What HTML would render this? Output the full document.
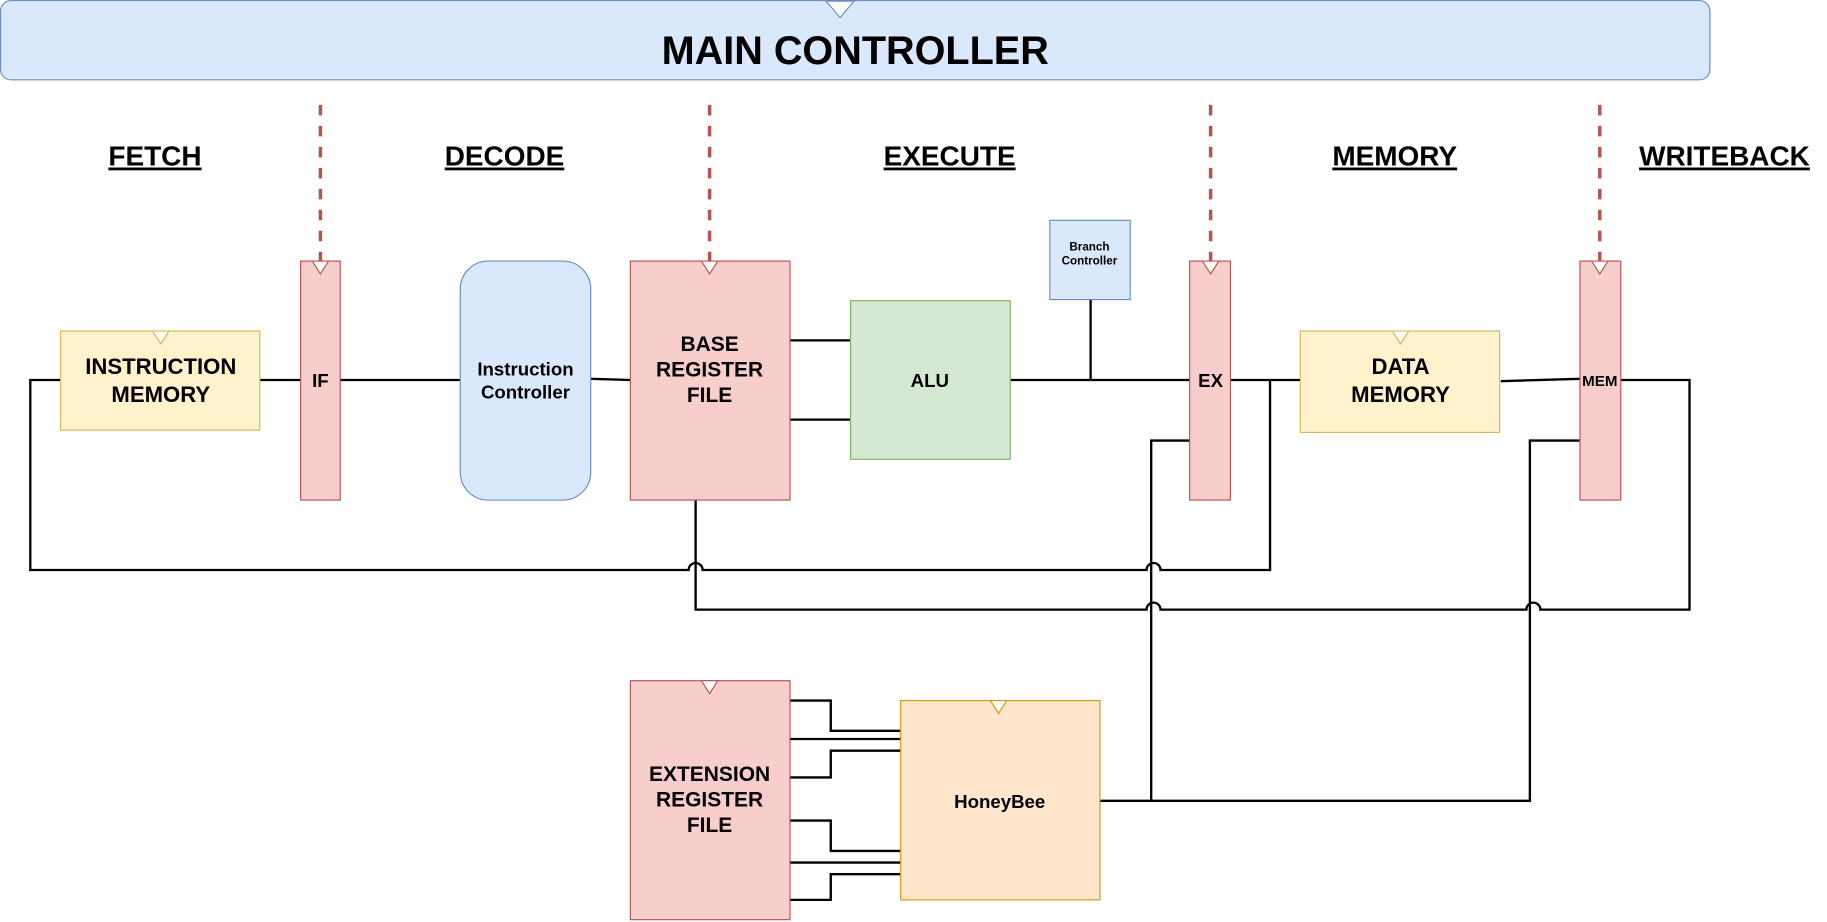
<!DOCTYPE html>
<html><head><style>html,body{margin:0;padding:0;background:#fff}svg{display:block}</style></head><body>
<svg width="1827" height="922" viewBox="0 0 1568 791" preserveAspectRatio="none" xmlns="http://www.w3.org/2000/svg" font-family="Liberation Sans, Arial, sans-serif" font-weight="bold">
<rect x="0.5" y="0.5" width="1467" height="68" rx="9" fill="#dae8fc" stroke="#6c8ebf"/>
<path d="M709 1 L733 1 L721 15 Z" fill="#fff" stroke="#6c8ebf"/>
<text x="734" y="55" font-size="34" text-anchor="middle">MAIN CONTROLLER</text>
<g font-size="24" text-anchor="middle" text-decoration="underline">
<text x="133" y="142">FETCH</text><text x="433" y="142">DECODE</text><text x="815" y="142">EXECUTE</text><text x="1197" y="142">MEMORY</text><text x="1480" y="142">WRITEBACK</text>
</g>
<g stroke="#b85450" stroke-width="3" stroke-dasharray="9,9">
<line x1="275" y1="90" x2="275" y2="232"/><line x1="609" y1="90" x2="609" y2="232"/><line x1="1039" y1="90" x2="1039" y2="232"/><line x1="1373" y1="90" x2="1373" y2="232"/>
</g>
<g stroke="#000" stroke-width="2" fill="none">
<line x1="223" y1="326" x2="258" y2="326"/><line x1="292" y1="326" x2="395" y2="326"/><line x1="507" y1="325" x2="541" y2="326"/>
<line x1="867" y1="326" x2="1021" y2="326"/><line x1="1056" y1="326" x2="1116" y2="326"/><line x1="1288" y1="327" x2="1356" y2="325"/>
<line x1="936" y1="257" x2="936" y2="326"/>
<line x1="678" y1="292" x2="730" y2="292"/><line x1="678" y1="360" x2="730" y2="360"/>
<path d="M52 326 H26 V489 H591 A6 6 0 0 1 603 489 H984 A6 6 0 0 1 996 489 H1090 V326"/>
<path d="M597 429 V523 H984 A6 6 0 0 1 996 523 H1310 A6 6 0 0 1 1322 523 H1450 V326 H1391"/>
<path d="M1021 378 H988 V687"/>
<path d="M944 687 H1313 V378 H1356"/>
<path d="M678 601 H713 V627 H773"/><path d="M678 634 H773"/><path d="M678 667 H713 V644 H773"/>
<path d="M678 704 H713 V730 H773"/><path d="M678 740 H773"/><path d="M678 772 H713 V750 H773"/>
</g>
<g stroke-width="1">
<rect x="52" y="284" width="171" height="85" fill="#fff2cc" stroke="#d6b656"/>
<path d="M131 284 L145 284 L138 295 Z" fill="#fff" stroke="#d6b656"/>
<rect x="258" y="224" width="34" height="205" fill="#f8cecc" stroke="#b85450"/>
<path d="M268 224 L282 224 L275 235 Z" fill="#fff" stroke="#b85450"/>
<rect x="395" y="224" width="112" height="205" rx="24" fill="#dae8fc" stroke="#6c8ebf"/>
<rect x="541" y="224" width="137" height="205" fill="#f8cecc" stroke="#b85450"/>
<path d="M602 224 L616 224 L609 235 Z" fill="#fff" stroke="#b85450"/>
<rect x="730" y="258" width="137" height="136" fill="#d5e8d4" stroke="#82b366"/>
<rect x="901" y="189" width="69" height="68" fill="#dae8fc" stroke="#6c8ebf"/>
<rect x="1021" y="224" width="35" height="205" fill="#f8cecc" stroke="#b85450"/>
<path d="M1032 224 L1046 224 L1039 235 Z" fill="#fff" stroke="#b85450"/>
<rect x="1116" y="284" width="171" height="87" fill="#fff2cc" stroke="#d6b656"/>
<path d="M1195 284 L1209 284 L1202 295 Z" fill="#fff" stroke="#d6b656"/>
<rect x="1356" y="224" width="35" height="205" fill="#f8cecc" stroke="#b85450"/>
<path d="M1366 224 L1380 224 L1373 235 Z" fill="#fff" stroke="#b85450"/>
<rect x="541" y="584" width="137" height="205" fill="#f8cecc" stroke="#b85450"/>
<path d="M602 584 L616 584 L609 595 Z" fill="#fff" stroke="#b85450"/>
<rect x="773" y="601" width="171" height="171" fill="#ffe6cc" stroke="#d79b00"/>
<path d="M850 601 L864 601 L857 612 Z" fill="#fff" stroke="#d79b00"/>
</g>
<g text-anchor="middle" font-size="19">
<text x="138" y="321">INSTRUCTION</text><text x="138" y="345">MEMORY</text>
<text x="275" y="332" font-size="16">IF</text>
<text x="451" y="322" font-size="16">Instruction</text><text x="451" y="342" font-size="16">Controller</text>
<text x="609" y="301" font-size="18">BASE</text><text x="609" y="323" font-size="18">REGISTER</text><text x="609" y="345" font-size="18">FILE</text>
<text x="798" y="332" font-size="16">ALU</text>
<text x="935" y="215" font-size="10">Branch</text><text x="935" y="227" font-size="10">Controller</text>
<text x="1039" y="332" font-size="16">EX</text>
<text x="1202" y="321">DATA</text><text x="1202" y="345">MEMORY</text>
<text x="1373" y="331" font-size="13">MEM</text>
<text x="609" y="670" font-size="18">EXTENSION</text><text x="609" y="692" font-size="18">REGISTER</text><text x="609" y="714" font-size="18">FILE</text>
<text x="858" y="693" font-size="16">HoneyBee</text>
</g>
</svg>
</body></html>
